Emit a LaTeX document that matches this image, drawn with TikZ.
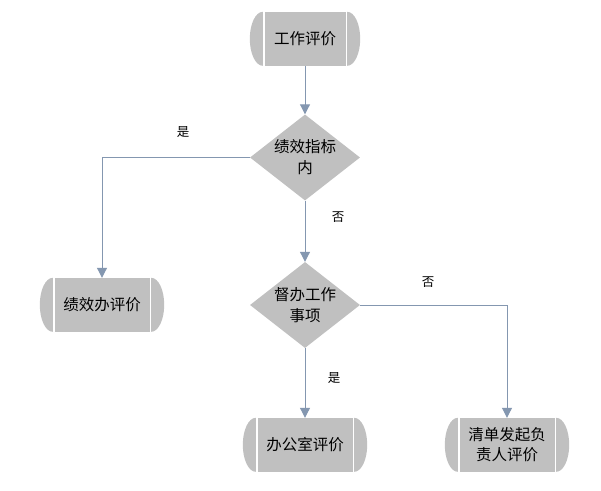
\documentclass[tikz,border=0pt]{standalone}
\usepackage{fontspec}
\setmainfont{Noto Sans CJK SC}
\usetikzlibrary{shapes.geometric,arrows.meta}
\definecolor{boxgray}{RGB}{192,192,192}
\definecolor{linec}{RGB}{132,151,176}
\newcommand\termcaps[1]{%
  \fill[boxgray] ([xshift=-1.5pt]#1.north west) arc[start angle=90,end angle=270,x radius=13pt,y radius=27pt] -- cycle;
  \fill[boxgray] ([xshift=1.5pt]#1.north east) arc[start angle=90,end angle=-90,x radius=13pt,y radius=27pt] -- cycle;
}
\tikzset{
  term/.style={rectangle,fill=boxgray,minimum height=54pt,inner sep=0pt,align=center,font=\fontsize{15.5}{20}\selectfont},
  dia/.style={diamond,fill=boxgray,minimum width=110pt,minimum height=86pt,inner sep=0pt},
  diatext/.style={align=center,font=\fontsize{15.5}{21}\selectfont},
  conn/.style={draw=linec,line width=1pt,-{Triangle[width=10pt,length=10pt,fill=linec]}},
  lbl/.style={font=\fontsize{12.5}{14}\selectfont}
}
\begin{document}
\begin{tikzpicture}[x=1pt,y=1pt]
\fill[white] (0,0) rectangle (601,490);
\useasboundingbox (0,0) rectangle (601,490);
% terminals
\node[term,minimum width=81pt] (start) at (305,451) {工作评价};
\node[term,minimum width=95pt] (jxb) at (102,185) {绩效办评价};
\node[term,minimum width=95pt] (bgs) at (305,45) {办公室评价};
\node[term,minimum width=95pt] (qd) at (507,45) {清单发起负\\责人评价};
\termcaps{start}
\termcaps{jxb}
\termcaps{bgs}
\termcaps{qd}
% decisions
\node[dia] (d1) at (305,332.5) {};
\node[diatext] (d1t) at (d1) {绩效指标\\内};
\node[dia] (d2) at (305,185) {};
\node[diatext] (d2t) at (d2) {督办工作\\事项};
% connectors
\draw[conn] (start.south) -- (d1.north);
\draw[conn] (d1.west) -| (jxb.north);
\draw[conn] (d1.south) -- (d2.north);
\draw[conn] (d2.east) -| (qd.north);
\draw[conn] (d2.south) -- (bgs.north);
% labels
\node[lbl] (l1) at (183,358) {是};
\node[lbl] (l2) at (338,273) {否};
\node[lbl] (l3) at (428,208) {否};
\node[lbl] (l4) at (334,112) {是};
\end{tikzpicture}
\end{document}
